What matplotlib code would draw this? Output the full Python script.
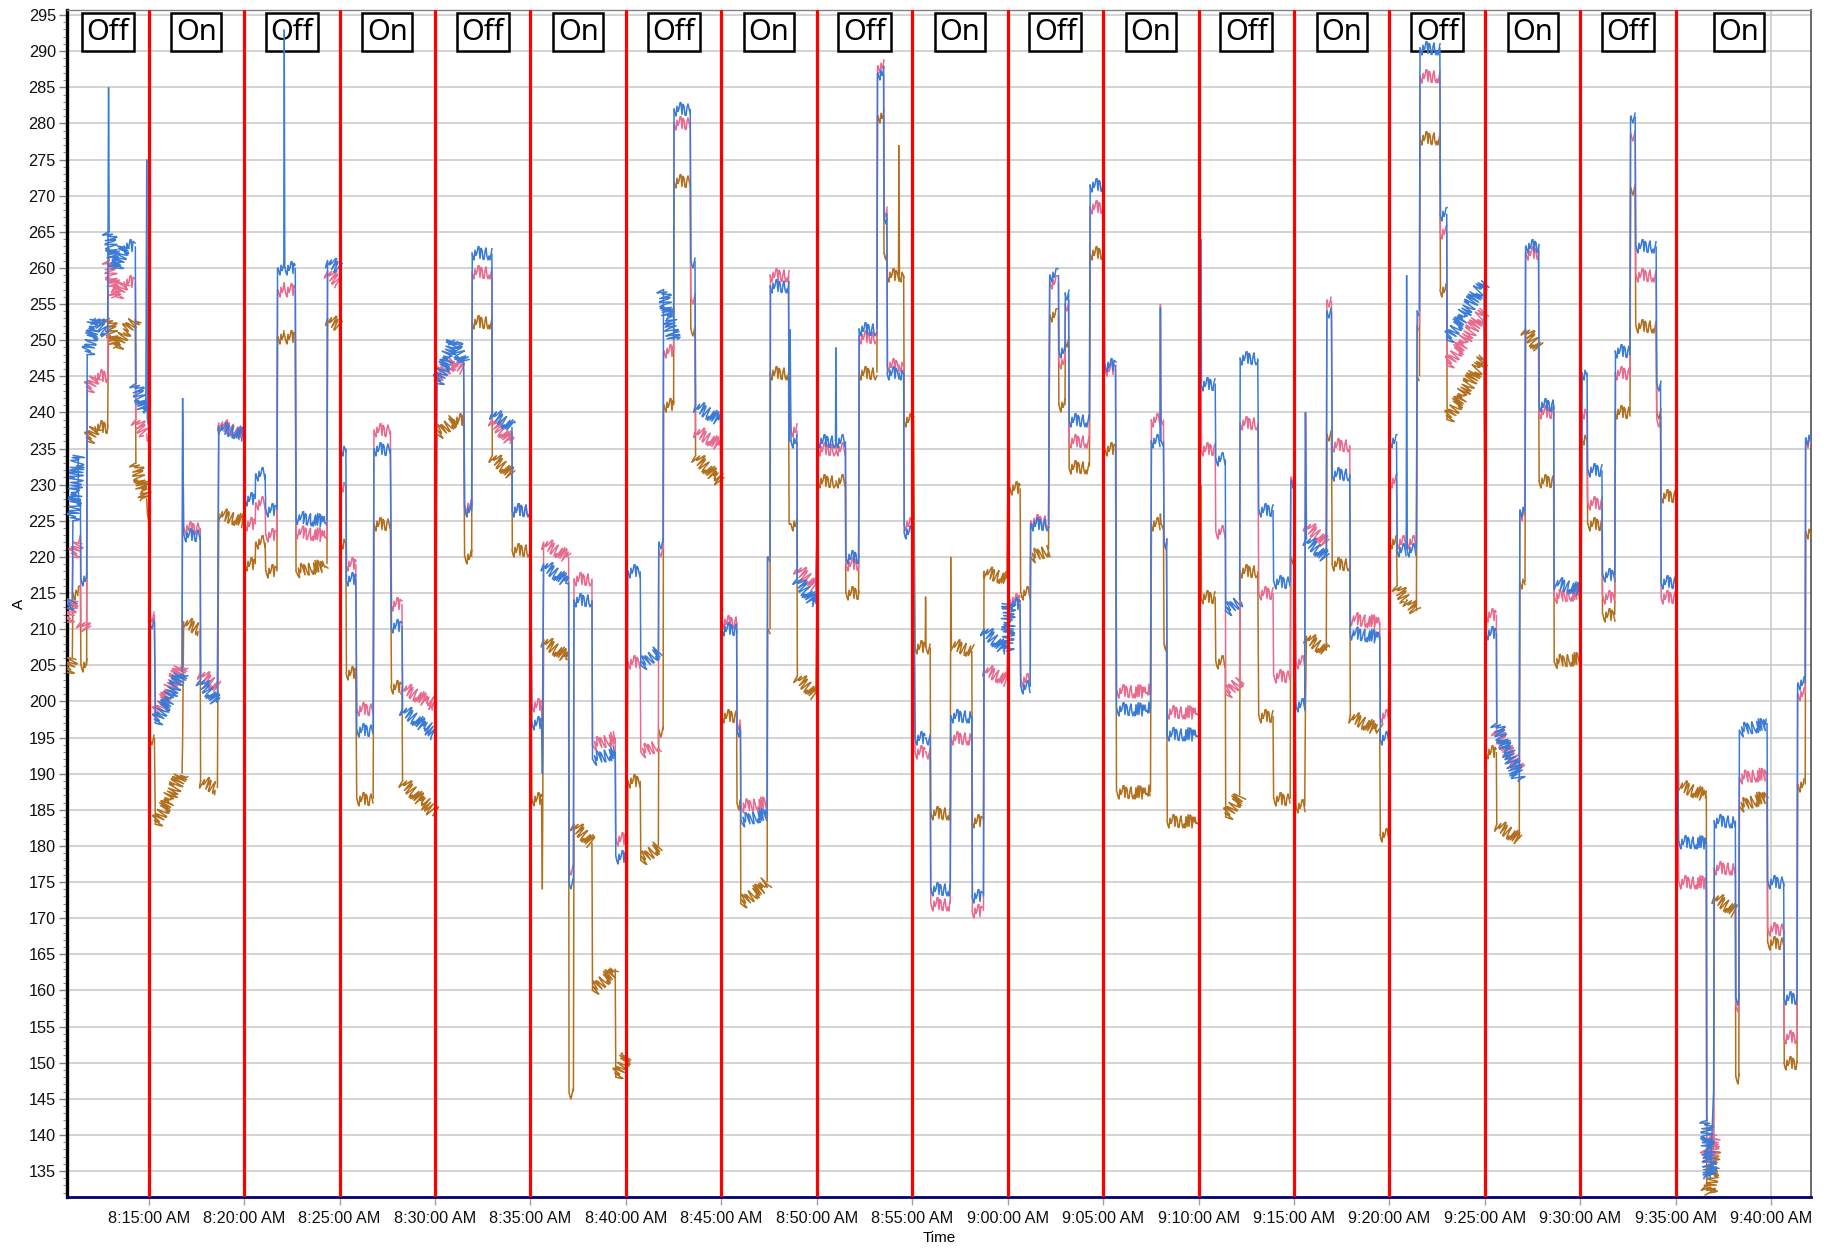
import datetime as dt
import matplotlib
matplotlib.use("Agg")
import matplotlib.pyplot as plt
import matplotlib.dates as mdates
import matplotlib.transforms as mtransforms
from matplotlib.collections import LineCollection
from matplotlib.ticker import MultipleLocator, FuncFormatter, FixedLocator

# ---- data (minutes after 8:00 AM, amps) ----
minutes = [10.72, 11.0, 11.03, 11.3, 11.33, 11.42, 11.45, 11.75, 11.78, 12.2, 12.85, 12.9,
           12.93, 13.3, 13.7, 14.3, 14.33, 14.85, 14.9, 14.93, 15.0, 15.05, 15.3, 15.35,
           16.75, 16.78, 16.83, 17.7, 17.72, 18.6, 18.67, 19.97, 20.05, 20.58, 20.6, 21.1,
           21.13, 21.72, 21.75, 22.08, 22.1, 22.13, 22.68, 22.72, 24.34, 24.37, 25.0, 25.05,
           25.33, 25.36, 25.85, 25.9, 26.76, 26.8, 27.66, 27.72, 28.27, 28.3, 30.0, 30.1,
           31.0, 31.5, 31.55, 31.92, 31.95, 32.98, 33.0, 34.03, 34.05, 35.0, 35.07, 35.58,
           35.62, 35.69, 37.0, 37.02, 37.25, 37.28, 38.22, 38.25, 39.44, 39.47, 40.05, 40.1,
           40.75, 40.78, 41.7, 41.72, 41.95, 41.97, 42.5, 42.52, 43.37, 43.4, 43.62, 43.65,
           44.95, 45.05, 45.8, 45.82, 46.0, 46.02, 47.4, 47.42, 47.55, 47.57, 48.52, 48.55,
           48.6, 48.65, 48.96, 48.98, 49.95, 50.08, 50.98, 51.0, 51.03, 51.5, 51.52, 52.19,
           52.22, 53.15, 53.18, 53.5, 53.52, 53.67, 53.7, 54.28, 54.3, 54.33, 54.55, 54.58,
           55.07, 55.15, 55.68, 55.7, 55.72, 55.94, 55.97, 56.99, 57.02, 57.05, 58.12, 58.15,
           58.73, 58.76, 59.96, 60.06, 60.1, 60.65, 60.68, 61.18, 61.2, 62.14, 62.2, 62.66,
           62.68, 63.0, 63.02, 63.19, 63.22, 64.28, 64.32, 65.02, 65.08, 65.65, 65.7, 67.48,
           67.53, 67.98, 68.0, 68.03, 68.16, 68.19, 68.32, 68.36, 70.0, 70.12, 70.15, 70.87,
           70.9, 71.4, 71.42, 72.15, 72.18, 73.1, 73.15, 73.9, 73.93, 74.8, 74.83, 75.0,
           75.1, 75.56, 75.6, 75.65, 76.69, 76.72, 76.96, 77.0, 77.92, 77.95, 79.49, 79.52,
           79.95, 80.02, 80.37, 80.4, 80.88, 80.9, 80.93, 81.41, 81.45, 81.57, 81.6, 82.64,
           82.67, 83.0, 83.02, 84.95, 85.05, 85.6, 85.62, 86.8, 86.83, 87.1, 87.13, 87.81,
           87.84, 88.6, 88.63, 90.0, 90.1, 90.35, 90.38, 91.13, 91.16, 91.8, 91.84, 92.6,
           92.63, 92.87, 92.9, 93.97, 94.0, 94.2, 94.23, 95.0, 95.1, 95.15, 96.6, 96.62,
           96.8, 96.98, 97.02, 98.12, 98.14, 98.3, 98.33, 99.78, 99.81, 100.65, 100.68, 101.35,
           101.38, 101.78, 101.8, 102.1]

blue = [213, 214, 225, 234, 227, 228, 217, 217, 248, 253, 251, 285,
        265, 260, 263, 263, 244, 240, 275, 239, 238, 211, 211, 197,
        204, 242, 223, 223, 203, 200, 238, 237, 228, 228, 231.5, 231.5,
        226.5, 226.5, 260, 260, 293, 260, 260, 225.5, 225, 261, 260, 235,
        235, 217, 217, 196, 196, 235, 235, 210.5, 210.5, 199, 195.5, 244,
        250, 247, 226.5, 226.5, 262, 262, 240, 238, 226.5, 226.5, 197, 197,
        190, 219, 216.5, 175, 175, 214, 214, 192, 193, 178.5, 178.5, 218,
        218, 205, 207, 222, 222, 257, 250, 282, 282, 261, 261, 241,
        239, 210, 210, 196, 196, 183.5, 184.5, 220, 220, 257.5, 257.5, 236,
        251.5, 236, 236, 217, 213.5, 236, 236, 249, 236, 236, 220, 220,
        251.5, 251.5, 287, 287, 267, 267, 245.5, 245.5, 245.5, 245.5, 245.5, 223.5,
        223.5, 195, 195, 195, 195, 195, 174, 174, 198, 198, 198, 173,
        173, 210, 207, 213.5, 213.5, 213.5, 202, 202, 224.5, 224.5, 259, 259,
        248.5, 248.5, 256.5, 256.5, 239, 239, 271.5, 271.5, 246.5, 246.5, 199, 199,
        236, 236, 254.5, 236, 236, 222, 222, 195.5, 195.5, 264, 244, 244,
        233.5, 233.5, 212.5, 214, 247.5, 247.5, 226.5, 226.5, 216.5, 216.5, 230.5, 230.5,
        199.5, 199.5, 240, 222.5, 220, 254, 254, 231.5, 231.5, 209.5, 209, 195,
        195, 236, 236, 221, 221, 259, 221, 221, 254, 254, 290.5, 290.5,
        267.5, 267.5, 250, 258, 209.5, 209.5, 197, 189, 226.5, 226.5, 263, 263,
        241, 241, 216.5, 215.5, 245.5, 245.5, 232, 232, 217.5, 217.5, 248.5, 248.5,
        281, 281, 263, 263, 244, 244, 216.5, 216.5, 193, 180.5, 180.5, 142,
        134, 146, 183.5, 183.5, 159, 159, 196, 197, 175, 175, 159, 159,
        202.5, 202.5, 236.5, 236.5]

pink = [211, 214, 220, 222, 222, 223, 211, 210, 243, 245, 245, 262,
        261, 256, 258, 258, 239, 237, 237, 236, 236, 212, 212, 198,
        205, 240, 224, 224, 204, 202, 238.5, 237, 224.5, 224.5, 227.5, 227.5,
        223, 223, 257, 257, 258, 257, 257, 223.5, 223, 259.5, 258, 230,
        230, 219, 219, 199, 199, 237.5, 237.5, 213.5, 213.5, 202, 199.5, 245,
        247, 246, 227, 227, 259.5, 259.5, 239, 236, 226.5, 226.5, 199.5, 199.5,
        195, 222, 220, 177, 177, 217, 217, 194, 195, 181, 181, 205.5,
        205.5, 193, 194, 221, 221, 248.5, 248.5, 280, 280, 256, 256, 237.5,
        235.5, 211, 211, 197, 197, 185.5, 186, 220, 220, 259, 259, 237.5,
        240, 237.5, 237.5, 218.5, 216, 235, 235, 237, 235, 235, 219, 219,
        250.5, 250.5, 288, 288, 268, 268, 246.5, 246.5, 246.5, 246.5, 246.5, 224.5,
        224.5, 193, 193, 193, 193, 193, 172, 172, 195, 195, 195, 171,
        171, 204.5, 203, 214, 214, 214, 203, 203, 225, 225, 258, 258,
        247, 247, 255, 255, 236, 236, 268.5, 268.5, 246, 246, 201.5, 201.5,
        239, 239, 255, 239, 239, 222, 222, 198.5, 198.5, 250, 235, 235,
        223.5, 223.5, 201, 203, 238.5, 238.5, 215, 215, 203.5, 203.5, 231, 231,
        205.5, 205.5, 240, 224.5, 222, 255.5, 255.5, 235.5, 235.5, 211.5, 211, 198,
        198, 230.5, 230.5, 222, 222, 224, 222, 222, 252, 252, 286.5, 286.5,
        265, 265, 246.5, 254, 212, 212, 196, 190.5, 226, 226, 262, 262,
        240, 240, 214.5, 215, 240, 240, 227.5, 227.5, 214.5, 214.5, 245.5, 245.5,
        278.5, 278.5, 259, 259, 239, 239, 214.5, 214.5, 186, 175, 175, 138,
        136, 140, 177, 177, 158, 158, 189.5, 190, 168.5, 168.5, 153.5, 153.5,
        201, 201, 236, 236]

brown = [204, 206, 215, 215, 216, 216, 205, 205, 236, 238, 238, 253,
         253, 249, 251, 253, 233, 228, 228, 226, 225, 195, 195, 183,
         190, 195, 211, 210, 189, 188, 226, 225, 219, 219, 222, 222,
         218, 218, 250.5, 250.5, 251, 250.5, 250.5, 218, 219, 253, 252, 222,
         222, 204, 204, 186.5, 186.5, 224.5, 224.5, 202, 202, 189, 184.5, 237,
         239, 239, 220, 220, 252.5, 252.5, 234, 231.5, 221, 221, 186.5, 186.5,
         174, 208.5, 206, 146, 146, 183, 180.5, 160, 163, 148, 151, 189,
         189, 178, 180, 196, 196, 241, 241, 272, 272, 251.5, 251.5, 234,
         230.5, 198, 198, 186, 186, 172, 175, 210, 210, 245.5, 245.5, 224.5,
         224.5, 224.5, 224.5, 203.5, 201, 230.5, 230.5, 230.5, 230.5, 230.5, 215, 215,
         245.5, 245.5, 281, 281, 262, 262, 259, 259, 277, 259, 259, 239,
         239, 207.5, 207.5, 214.5, 207.5, 207.5, 184.5, 184.5, 220, 208, 207, 183.5,
         183.5, 218, 217, 246, 229.5, 229.5, 215, 215, 220, 221, 253.5, 253.5,
         241, 241, 250, 250, 232.5, 232.5, 262, 262, 235, 235, 187.5, 187.5,
         224.5, 224.5, 226, 224.5, 224.5, 208, 208, 183.5, 183.5, 230, 214.5, 214.5,
         205.5, 205.5, 184, 187, 218, 218, 198, 198, 186.5, 186.5, 220, 220,
         185.5, 185.5, 200, 209, 207, 237, 237, 219, 219, 198, 196, 181.5,
         181.5, 222, 222, 216, 214, 214, 214, 212.5, 245, 245, 278, 278,
         257, 257, 239, 247.5, 193, 193, 183, 181, 216.5, 216.5, 251.5, 249,
         230.5, 230.5, 205.5, 206, 236.5, 236.5, 224.5, 224.5, 212, 212, 240, 240,
         271, 271, 252, 252, 240, 240, 228.5, 228.5, 202, 188.5, 187, 133,
         132, 138, 173, 171, 148, 148, 185.5, 187, 166.5, 166.5, 150, 150,
         188.5, 188.5, 223.5, 223.5]

switch_minutes = [15, 20, 25, 30, 35, 40, 45, 50, 55, 60, 65, 70, 75, 80, 85, 90, 95]
state_labels = ["Off", "On", "Off", "On", "Off", "On", "Off", "On", "Off",
                "On", "Off", "On", "Off", "On", "Off", "On", "Off", "On"]
x_tick_minutes = [15, 20, 25, 30, 35, 40, 45, 50, 55, 60, 65, 70, 75, 80, 85, 90, 95, 100]
y_ticks = list(range(135, 296, 5))
x_range_minutes = (10.72, 102.08)
y_range = (131.4, 295.7)

# ---- helpers ----
BASE = dt.datetime(2020, 1, 1, 8, 0, 0)


def to_num(m):
    return mdates.date2num(BASE + dt.timedelta(minutes=m))


def fmt_time(x, pos=None):
    d = mdates.num2date(x)
    return d.strftime("%I:%M:%S %p").lstrip("0")


xs = [to_num(m) for m in minutes]


def pieces(vals, want_plateau):
    """Consecutive point pairs: plateaus (long, nearly level) or jumps."""
    out = []
    for i in range(len(minutes) - 1):
        is_plateau = ((minutes[i + 1] - minutes[i]) > 0.09
                      and abs(vals[i + 1] - vals[i]) < 10)
        if is_plateau == want_plateau:
            out.append([(xs[i], vals[i]), (xs[i + 1], vals[i + 1])])
    return out


plt.rcParams["font.family"] = ["Liberation Sans", "DejaVu Sans"]

fig = plt.figure(figsize=(18.3, 12.49), dpi=100)
ax = fig.add_axes([0.0366, 0.0416, 0.9530, 0.9504])

# series (brown under pink under blue): noisy-looking plateaus + thin jumps
for k, (vals, col) in enumerate(((brown, "#B26F1C"), (pink, "#EA6A8E"), (blue, "#3A7BD8"))):
    z = 3 + k * 0.1
    ax.add_collection(LineCollection(pieces(vals, False), colors=col, linewidths=1.1, zorder=z))
    for seg in pieces(vals, True):
        (x0, y0), (x1, y1) = seg
        ln, = ax.plot([x0, x1], [y0, y1], color=col, lw=1.1, zorder=z)
        ln.set_sketch_params(scale=7, length=3, randomness=3)

# switch lines
for m in switch_minutes:
    ax.axvline(to_num(m), color="#FF0000", lw=2.3, zorder=4)

# state labels
bounds = [x_range_minutes[0]] + switch_minutes + [x_range_minutes[1] - 0.5]
trans = mtransforms.blended_transform_factory(ax.transData, ax.transAxes)
for i, lab in enumerate(state_labels):
    center = 0.5 * (bounds[i] + bounds[i + 1])
    ax.text(to_num(center), 0.9935, lab, transform=trans, ha="center", va="top",
            fontsize=21, family=["Noto Sans", "DejaVu Sans"], zorder=2,
            bbox=dict(boxstyle="square,pad=0.16", fc="white", ec="black", lw=1.8))

# axes limits, ticks
ax.set_xlim(to_num(x_range_minutes[0]), to_num(x_range_minutes[1]))
ax.set_ylim(*y_range)
ax.xaxis.set_major_locator(FixedLocator([to_num(m) for m in x_tick_minutes]))
ax.xaxis.set_major_formatter(FuncFormatter(fmt_time))
ax.yaxis.set_major_locator(FixedLocator(y_ticks))
ax.yaxis.set_minor_locator(MultipleLocator(1))

ax.grid(True, which="major", color="#C8C8C8", lw=1.1, zorder=0)
ax.set_axisbelow(True)

ax.tick_params(axis="both", which="major", labelsize=11.7, colors="#111111")
ax.tick_params(axis="y", which="major", length=6, width=1, color="#808080", pad=2)
ax.tick_params(axis="y", which="minor", length=3, width=0.8, color="#909090")
ax.tick_params(axis="x", which="major", length=6, width=1, color="#A0A0A0", pad=4)

for side, col, lw in (("left", "#000000", 2.4), ("bottom", "#000070", 2.0),
                      ("top", "#808080", 1.0), ("right", "#505050", 1.2)):
    ax.spines[side].set_color(col)
    ax.spines[side].set_linewidth(lw)

ax.set_xlabel("Time", fontsize=11, labelpad=4)
ax.set_ylabel("A", fontsize=11, labelpad=2)

fig.savefig("out.png", dpi=100)
